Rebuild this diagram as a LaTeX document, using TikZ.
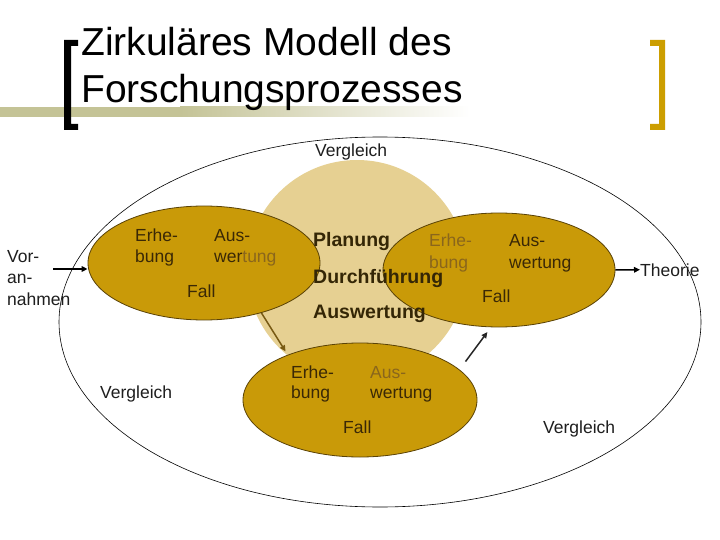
\documentclass[tikz,border=0pt]{standalone}
\usepackage{fontspec}
\setmainfont{Liberation Sans}
\usetikzlibrary{arrows.meta,shapes.geometric}
\definecolor{gold}{RGB}{201,154,8}
\definecolor{bracketgold}{RGB}{204,158,0}
\definecolor{elledge}{RGB}{90,66,6}
\definecolor{tanfill}{RGB}{230,208,146}
\definecolor{olivebar}{RGB}{196,195,150}
\definecolor{textdark}{RGB}{58,40,6}
\definecolor{textlight}{RGB}{138,102,28}
\definecolor{bolddark}{RGB}{52,38,6}
\definecolor{brarrow}{RGB}{120,90,20}
\definecolor{plain}{RGB}{30,30,30}
\begin{document}
\begin{tikzpicture}[x=1pt,y=-1pt,
  fallell/.style={ellipse, draw=elledge, fill=gold, line width=0.8pt,
    minimum width=232pt, minimum height=114pt, inner sep=0pt},
  lbl/.style={inner sep=0pt, anchor=base west, text=textdark,
    font=\fontsize{17.5}{21}\selectfont},
  plainlbl/.style={lbl, text=plain},
  boldlbl/.style={inner sep=0pt, anchor=base west, text=bolddark,
    font=\fontsize{19.5}{23}\selectfont\bfseries},
  titlelbl/.style={inner sep=0pt, anchor=base west, text=black,
    font=\fontsize{39}{47}\selectfont},
  arr/.style={line width=1.5pt, -{Triangle[length=6pt,width=5.5pt]}}]
\useasboundingbox (0,0) rectangle (720,540);
\fill[white] (0,0) rectangle (720,540);

% header
\fill[olivebar] (0,107) rectangle (180,117);
\shade[left color=olivebar, right color=white] (180,107) rectangle (470,117);
\fill[black] (64,40) -- (78,40) -- (78,46) -- (71,46) -- (71,124) -- (78,124)
  -- (78,130) -- (64,130) -- cycle;
\fill[bracketgold] (650,40) -- (665,40) -- (665,130) -- (650,130) -- (650,124)
  -- (659,124) -- (659,46) -- (650,46) -- cycle;
\node[titlelbl] (t1) at (81,56) {Zirkuläres Modell des};
\node[titlelbl] (t2) at (81,103) {Forschungsprozesses};

% outer ellipse and central circle
\node[ellipse, draw=black, line width=0.6pt, minimum width=642pt,
  minimum height=370pt, inner sep=0pt] (outer) at (380,322) {};
\node[circle, fill=tanfill, minimum size=220pt, inner sep=0pt] (C) at (357,270) {};

% case ellipses
\node[fallell] (L) at (204,263) {};
\node[fallell, minimum width=234pt] (B) at (360,400) {};
\node[fallell] (R) at (499,270) {};

% left ellipse texts
\node[lbl] (l1) at (135,241) {Erhe-};
\node[lbl] (l2) at (135,262) {bung};
\node[lbl] (l3) at (214,241) {Aus-};
\node[lbl] (l4) at (214,262) {wer{\color{textlight}tung}};
\node[lbl] (l5) at (187,297) {Fall};

% right ellipse texts
\node[lbl, text=textlight] (r1) at (429,247) {Erhe-};
\node[lbl, text=textlight] (r2) at (429,268) {bung};
\node[lbl] (r3) at (509,246) {Aus-};
\node[lbl] (r4) at (509,268) {wertung};
\node[lbl] (r5) at (482,302) {Fall};

% bottom ellipse texts
\node[lbl] (b1) at (291,378) {Erhe-};
\node[lbl] (b2) at (291,398) {bung};
\node[lbl, text=textlight] (b3) at (370,378) {Aus-};
\node[lbl] (b4) at (370,398) {wertung};
\node[lbl] (b5) at (343,433) {Fall};

% circle texts
\node[boldlbl] (p1) at (313,247) {Planung};
\node[boldlbl] (p2) at (313,283) {Durchführung};
\node[boldlbl] (p3) at (313,318) {Auswertung};

% other labels
\node[plainlbl] (v1) at (315,157) {Vergleich};
\node[plainlbl] (v2) at (100,398) {Vergleich};
\node[plainlbl] (v3) at (543,433) {Vergleich};
\node[plainlbl] (va) at (7,262) {Vor-};
\node[plainlbl] (vb) at (7,283) {an-};
\node[plainlbl] (vc) at (7,305) {nahmen};
\node[plainlbl] (theo) at (640,276) {Theorie};

% arrows
\coordinate (vorA) at (53,269);
\draw[arr, black] (vorA) -- (L.west |- vorA);
\draw[arr, black] (R.east) -- (theo.west);
\draw[arr, brarrow, shorten >=4pt] (L.-41) -- (B.148);
\draw[arr, black!85, shorten <=10pt, shorten >=6pt] (B.17) -- (R.-98);
\end{tikzpicture}
\end{document}
